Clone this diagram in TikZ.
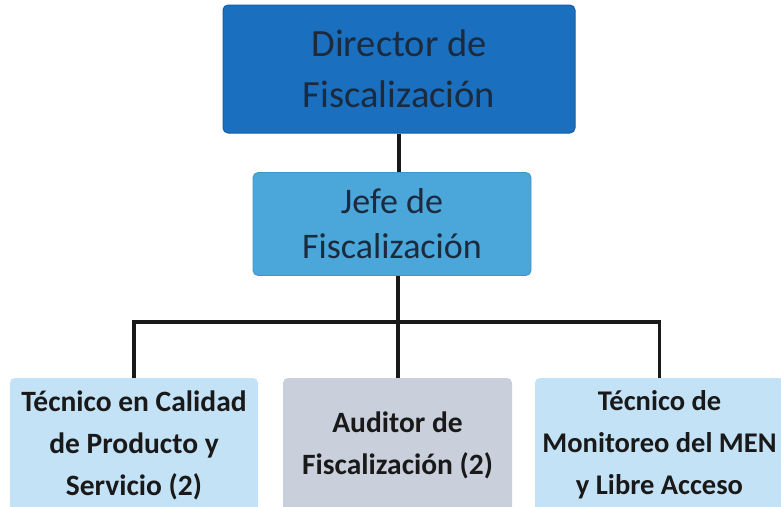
\documentclass[tikz,border=0pt]{standalone}
\usepackage{fontspec}
\setmainfont{Carlito}
\usepackage{tikz}
\usetikzlibrary{positioning}
\definecolor{dirblue}{HTML}{1A6FBF}
\definecolor{jefeblue}{HTML}{4BA6DA}
\definecolor{paleblue}{HTML}{C4E2F6}
\definecolor{palegrey}{HTML}{C9D0DB}
\definecolor{navytext}{HTML}{1B2A3D}
\tikzset{
    orgbox/.style={
            rectangle, rounded corners=5pt, align=center, inner sep=0pt
        },
    director box/.style={
            orgbox, fill=dirblue, draw=dirblue!85!black, line width=1pt,
            text=navytext, font=\fontsize{38.5}{51}\selectfont
        },
    jefe box/.style={
            orgbox, fill=jefeblue, draw=jefeblue!90!black, line width=0.8pt,
            text=navytext, font=\fontsize{36}{45}\selectfont
        },
    staff box/.style={
            orgbox, fill=paleblue, text=black!90,
            font=\bfseries\fontsize{29.5}{42}\selectfont
        },
    link/.style={line width=3.8pt, black!90}
}

\begin{document}
\begin{tikzpicture}[x=1pt, y=-1pt]
        \useasboundingbox[fill=white] (0, 0) rectangle (781, 506);
        %draw top boxes
        \node[director box, minimum width=352pt, minimum height=128pt] (director) at (399, 69) {Director de\\Fiscalización};
        \node[jefe box, minimum width=278pt, minimum height=103pt] (jefe) at (392, 224) {Jefe de\\Fiscalización};
        %draw bottom boxes
        \node[staff box, minimum width=248pt, minimum height=134pt] (calidad) at (134, 445) {Técnico en Calidad\\de Producto y\\Servicio (2)};
        \node[staff box, fill=palegrey, minimum width=229pt, minimum height=134pt] (auditor) at (397.5, 445) {Auditor de\\Fiscalización (2)};
        \node[staff box, minimum width=249pt, minimum height=134pt,
            font=\bfseries\fontsize{28.5}{42}\selectfont] (monitoreo) at (659.5, 445) {Técnico de\\Monitoreo del MEN\\y Libre Acceso};
        %branch point
        \coordinate (hub) at (398, 322);
        %draw links
        \draw[link] (director.south) -- (director.south |- jefe.north);
        \draw[link] (jefe.south -| hub) -- (hub);
        \draw[link] (calidad.north) |- (hub) -| (monitoreo.north);
        \draw[link] (hub) -- (hub |- auditor.north);
    \end{tikzpicture}
\end{document}
